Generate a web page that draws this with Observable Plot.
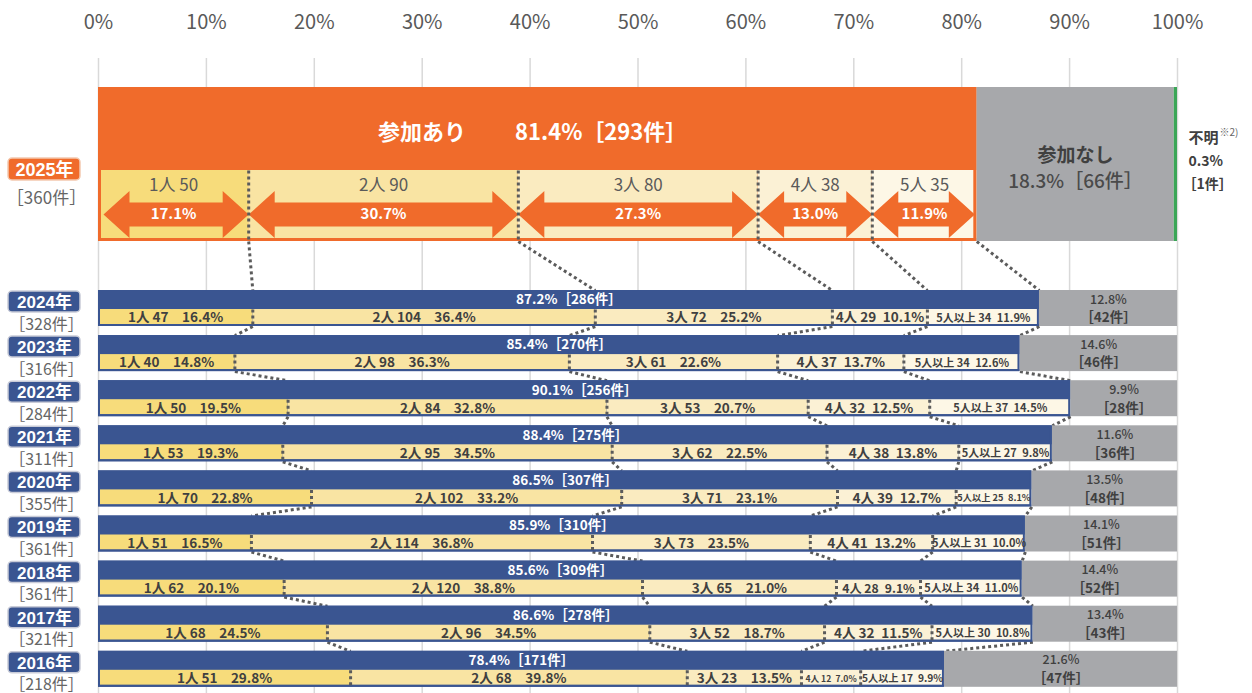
<!DOCTYPE html>
<html>
<head>
<meta charset="utf-8">
<script src="https://cdn.jsdelivr.net/npm/d3@7"></script>
<script src="https://cdn.jsdelivr.net/npm/@observablehq/plot@0.6"></script>
<style>
  body { margin: 0; background: #fff; }
</style>
</head>
<body>
<div id="chart"></div>
<script>
// ---- data ----------------------------------------------------------
const ticks = [0, 10, 20, 30, 40, 50, 60, 70, 80, 90, 100];

// latest year (large bar)
const latestYear = "2025年";
const latestTotal = 360;
const latestJoinPct = 81.4;
const latestJoinCount = 293;
const latestNoPct = 18.3;
const latestNoCount = 66;
const latestUnknownPct = 0.3;
const latestUnknownCount = 1;
const latestGroups = ["1人", "2人", "3人", "4人", "5人"];
const latestCounts = [50, 90, 80, 38, 35];
const latestShares = [17.1, 30.7, 27.3, 13.0, 11.9];

// earlier years
const years = ["2024年", "2023年", "2022年", "2021年", "2020年", "2019年", "2018年", "2017年", "2016年"];
const totals = [328, 316, 284, 311, 355, 361, 361, 321, 218];
const joinPct = [87.2, 85.4, 90.1, 88.4, 86.5, 85.9, 85.6, 86.6, 78.4];
const joinCount = [286, 270, 256, 275, 307, 310, 309, 278, 171];
const noPct = [12.8, 14.6, 9.9, 11.6, 13.5, 14.1, 14.4, 13.4, 21.6];
const noCount = [42, 46, 28, 36, 48, 51, 52, 43, 47];
const groups = ["1人", "2人", "3人", "4人", "5人以上"];
const groupCounts = [
  [47, 104, 72, 29, 34],
  [40, 98, 61, 37, 34],
  [50, 84, 53, 32, 37],
  [53, 95, 62, 38, 27],
  [70, 102, 71, 39, 25],
  [51, 114, 73, 41, 31],
  [62, 120, 65, 28, 34],
  [68, 96, 52, 32, 30],
  [51, 68, 23, 12, 17]
];
const groupShares = [
  [16.4, 36.4, 25.2, 10.1, 11.9],
  [14.8, 36.3, 22.6, 13.7, 12.6],
  [19.5, 32.8, 20.7, 12.5, 14.5],
  [19.3, 34.5, 22.5, 13.8, 9.8],
  [22.8, 33.2, 23.1, 12.7, 8.1],
  [16.5, 36.8, 23.5, 13.2, 10.0],
  [20.1, 38.8, 21.0, 9.1, 11.0],
  [24.5, 34.5, 18.7, 11.5, 10.8],
  [29.8, 39.8, 13.5, 7.0, 9.9]
];

// ---- styling / layout ---------------------------------------------
const FONT = "'Noto Sans CJK JP', 'Noto Sans', sans-serif";
const YEAR_FONT = "'Liberation Sans', 'Noto Sans CJK JP', sans-serif";
const ORANGE = "#F06B2B";
const BLUE = "#3A5591";
const GRAY = "#A7A8AB";
const GREEN = "#3BA657";
const DOT = "#5b5b5b";
const TEXT_DARK = "#404040";
const segColors = ["#F7DC7B", "#F9E4A3", "#FAEBC0", "#FBF1D5", "#FDF7E6"];

const W = 1252, H = 693;
const ML = 98, MR = 75;
const PX = (W - ML - MR) / 100;     // pixels per percentage point
const ux = p => p / PX;              // pixel offset -> x units

const TOP = {y1: 87, y2: 241, innerY1: 170, innerY2: 238, labelY: 185, arrowY: 214};
const ROW0 = 290, PITCH = 45.1, BAR_H = 36, SPLIT = 19;
const rowTop = i => ROW0 + i * PITCH;

// cumulative segment bounds, scaled so the last one ends at the bar end
function bounds(shares, end) {
  const sum = d3.sum(shares);
  let c = 0;
  return shares.map(s => {
    const a = c; c += s;
    return [a / sum * end, c / sum * end];
  });
}

// ---- latest year marks data ---------------------------------------
const latestB = bounds(latestShares, latestJoinPct);
const latestSegs = latestB.map(([a, b], k) => ({
  x1: a, x2: b, k,
  label: `${latestGroups[k]} ${latestCounts[k]}`,
  pct: `${latestShares[k].toFixed(1)}%`
}));

// double-headed arrows as filled polygons
const HEAD = ux(26), SHAFT = 12, HEADH = 23.5;
const arrowPts = [];
latestSegs.forEach(s => {
  const a = s.x1 + (s.k === 0 ? ux(5) : 0);
  const b = s.x2 - (s.k === latestSegs.length - 1 ? ux(2) : 0);
  const yc = TOP.arrowY;
  [
    [a, yc], [a + HEAD, yc - HEADH], [a + HEAD, yc - SHAFT], [b - HEAD, yc - SHAFT],
    [b - HEAD, yc - HEADH], [b, yc], [b - HEAD, yc + HEADH], [b - HEAD, yc + SHAFT],
    [a + HEAD, yc + SHAFT], [a + HEAD, yc + HEADH], [a, yc]
  ].forEach(([x, y]) => arrowPts.push({id: s.k, x, y}));
});

// ---- yearly rows data ----------------------------------------------
const rows = years.map((yr, i) => ({
  year: yr, total: totals[i], top: rowTop(i),
  join: joinPct[i], joinCount: joinCount[i], no: noPct[i], noCount: noCount[i]
}));
const rowSegs = [];
rows.forEach((r, i) => {
  bounds(groupShares[i], r.join).forEach(([a, b], k) => {
    const wpx = (b - a) * PX;
    // narrow segments get a smaller font and a tighter gap
    const size = k === 4 ? Math.min(11, wpx / 8.2) : Math.min(13.5, wpx / 6.9);
    const gap = k >= 3 ? "\u2002" : "\u3000";
    rowSegs.push({
      x1: a, x2: b, k, y1: r.top + SPLIT, y2: r.top + BAR_H - 2,
      text: `${groups[k]} ${groupCounts[i][k]}${gap}${groupShares[i][k].toFixed(1)}%`,
      size, y: r.top + 27.5
    });
  });
});

// ---- dotted guides -------------------------------------------------
const levels = [{
  b: latestB.slice(0, 4).map(d => d[1]).concat(latestJoinPct),
  top: TOP.y1, bottom: TOP.y2
}].concat(rows.map((r, i) => ({
  b: bounds(groupShares[i], r.join).slice(0, 4).map(d => d[1]).concat(r.join),
  top: r.top, bottom: r.top + BAR_H
})));
const links = [];
for (let L = 0; L < levels.length - 1; L++) {
  for (let j = 0; j < 5; j++) {
    links.push({x1: levels[L].b[j], y1: levels[L].bottom, x2: levels[L + 1].b[j], y2: levels[L + 1].top});
  }
}
const verticals = [];
levels.forEach((lv, L) => {
  lv.b.slice(0, 4).forEach(x => {
    verticals.push(L === 0
      ? {x, y1: TOP.innerY1, y2: TOP.y2}
      : {x, y1: lv.top + SPLIT, y2: lv.bottom});
  });
});

const dotted = {stroke: DOT, strokeWidth: 3, strokeDasharray: "3 3"};

// ---- chart ---------------------------------------------------------
const chart = Plot.plot({
  width: W, height: H,
  marginLeft: ML, marginRight: MR, marginTop: 0, marginBottom: 0,
  x: {domain: [0, 100], axis: null},
  y: {type: "linear", domain: [0, H], range: [0, H], axis: null},
  color: {type: "identity"},
  style: {background: "white", fontFamily: FONT, overflow: "visible"},
  marks: [
    // grid and top tick labels
    Plot.ruleX(ticks, {x: d => d, y1: 58, y2: H, stroke: "#d9d9d9", strokeWidth: 1.5}),
    Plot.text(ticks, {x: d => d, y: 22, text: d => `${d}%`, fontSize: 20, fill: "#595959"}),

    // connectors between consecutive bars (drawn beneath the bars)
    Plot.link(links, {x1: "x1", y1: "y1", x2: "x2", y2: "y2", ...dotted}),

    // latest year: participation / none / unknown
    Plot.rect([0], {x1: 0, x2: latestJoinPct, y1: TOP.y1, y2: TOP.y2, fill: ORANGE}),
    Plot.rect([0], {x1: latestJoinPct, x2: latestJoinPct + latestNoPct, y1: TOP.y1, y2: TOP.y2, fill: GRAY}),
    Plot.rect([0], {x1: latestJoinPct + latestNoPct, x2: 100, y1: TOP.y1, y2: TOP.y2, fill: GREEN}),
    Plot.rect(latestSegs, {x1: "x1", x2: "x2", y1: TOP.innerY1, y2: TOP.innerY2, fill: d => segColors[d.k]}),
    Plot.rect([0], {x1: 0, x2: latestJoinPct, y1: TOP.y1, y2: TOP.y2, fill: "none", stroke: ORANGE, strokeWidth: 3, inset: 1.5}),
    Plot.line(arrowPts, {x: "x", y: "y", z: "id", fill: ORANGE, stroke: "none"}),
    Plot.text(latestSegs, {x: d => (d.x1 + d.x2) / 2, y: TOP.labelY, text: "label", fontSize: 17, fill: "#5a5a5a"}),
    Plot.text(latestSegs, {x: d => (d.x1 + d.x2) / 2, y: TOP.arrowY, text: "pct", fontSize: 15, fontWeight: "bold", fill: "white"}),
    Plot.text([0], {x: latestJoinPct / 2, dx: -5, y: 132, text: [`参加あり\u3000\u3000 ${latestJoinPct}%［${latestJoinCount}件］`], fontSize: 22, fontWeight: "bold", fill: "white"}),
    Plot.text([0], {x: latestJoinPct + latestNoPct / 2, y: 155, text: ["参加なし"], fontSize: 19, fontWeight: "bold", fill: TEXT_DARK}),
    Plot.text([0], {x: latestJoinPct + latestNoPct / 2, y: 181, text: [`${latestNoPct}%［${latestNoCount}件］`], fontSize: 19, fontWeight: 500, fill: "#4a4a4a"}),
    Plot.text([0], {x: 100, dx: 11, y: 138, text: ["不明"], textAnchor: "start", fontSize: 15, fontWeight: "bold", fill: TEXT_DARK}),
    Plot.text([0], {x: 100, dx: 42, y: 132, text: ["※2)"], textAnchor: "start", fontSize: 10, fill: "#666"}),
    Plot.text([0], {x: 100, dx: 11, y: 161, text: [`${latestUnknownPct}%`], textAnchor: "start", fontSize: 14, fontWeight: "bold", fill: TEXT_DARK}),
    Plot.text([0], {x: 100, dx: 5, y: 184, text: [`［${latestUnknownCount}件］`], textAnchor: "start", fontSize: 14, fontWeight: "bold", fill: TEXT_DARK}),

    // earlier years
    Plot.rect(rows, {x1: 0, x2: "join", y1: "top", y2: d => d.top + BAR_H, fill: BLUE}),
    Plot.rect(rows, {x1: "join", x2: 100, y1: "top", y2: d => d.top + BAR_H, fill: GRAY}),
    Plot.rect(rowSegs, {x1: "x1", x2: "x2", y1: "y1", y2: "y2", fill: d => segColors[d.k]}),
    Plot.rect(rows, {x1: 0, x2: "join", y1: "top", y2: d => d.top + BAR_H, fill: "none", stroke: BLUE, strokeWidth: 2, inset: 1}),

    // vertical guides inside the yellow bands
    Plot.link(verticals, {x1: "x", x2: "x", y1: "y1", y2: "y2", ...dotted}),

    Plot.text(rows, {x: d => d.join / 2, y: d => d.top + 9.5, text: d => `${d.join}%［${d.joinCount}件］`, fontSize: 13.5, fontWeight: "bold", fill: "white"}),
    Plot.text(rowSegs, {x: d => (d.x1 + d.x2) / 2, y: "y", text: "text", fontSize: "size", fontWeight: "bold", fill: TEXT_DARK}),
    Plot.text(rows, {x: d => (d.join + 100) / 2, y: d => d.top + 9, text: d => `${d.no.toFixed(1)}%`, fontSize: 12.5, fontWeight: 500, fill: TEXT_DARK}),
    Plot.text(rows, {x: d => (d.join + 100) / 2, y: d => d.top + 27.5, text: d => `［${d.noCount}件］`, fontSize: 13.5, fontWeight: "bold", fill: TEXT_DARK}),

    // year labels on the left
    Plot.rect([0], {x1: ux(8 - ML), x2: ux(80 - ML), y1: 158, y2: 180, fill: ORANGE, stroke: "#f3c9b0", strokeWidth: 1.5, rx: 4}),
    Plot.text([0], {x: ux(44 - ML), y: 169.5, text: [latestYear], fontFamily: YEAR_FONT, fontSize: 18, fontWeight: "bold", fill: "white"}),
    Plot.text([0], {x: ux(46 - ML), y: 198, text: [`［${latestTotal}件］`], fontSize: 17, fill: "#666"}),
    Plot.rect(rows, {x1: ux(8 - ML), x2: ux(80 - ML), y1: d => d.top + 1, y2: d => d.top + 22, fill: BLUE, stroke: "#c9ccd8", strokeWidth: 1.5, rx: 4}),
    Plot.text(rows, {x: ux(44 - ML), y: d => d.top + 12, text: "year", fontFamily: YEAR_FONT, fontSize: 17, fontWeight: "bold", fill: "white"}),
    Plot.text(rows, {x: ux(46 - ML), y: d => d.top + 34, text: d => `［${d.total}件］`, fontSize: 16, fill: "#666"})
  ]
});

document.getElementById("chart").appendChild(chart);
</script>
</body>
</html>
